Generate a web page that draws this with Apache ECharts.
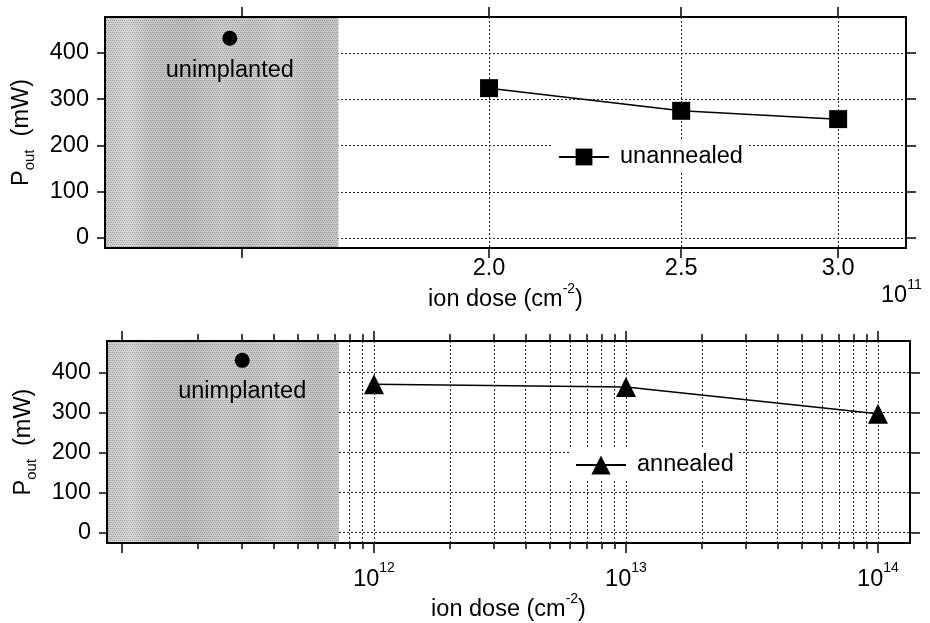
<!DOCTYPE html>
<html><head><meta charset="utf-8">
<script src="https://cdn.jsdelivr.net/npm/echarts@6/dist/echarts.min.js"></script>
<style>html,body{margin:0;padding:0;background:#fff}#c{width:930px;height:623px}</style>
</head><body><div id="c"></div>
<script>
// ---------- data ----------
const topDose = [2.0e11, 2.5e11, 3.0e11];
const topPout = [324, 275, 257];
const bottomDose = [1e12, 1e13, 1e14];
const bottomPout = [371, 364, 297];
const unimplTopDose = [1.48e11];
const unimplTopPout = [432];
const unimplBottomDose = [3e11];
const unimplBottomPout = [431];
// ---------- ticks ----------
const topXTicks = [1.5e11, 2.0e11, 2.5e11, 3.0e11];
const topXLabels = [2.0e11, 2.5e11, 3.0e11];
const bottomMajorTicks = [1e11, 1e12, 1e13, 1e14];
const bottomXLabels = [1e12, 1e13, 1e14];
const bottomMinorTicks = [2e11, 3e11, 4e11, 5e11, 6e11, 7e11, 8e11, 9e11,
  2e12, 3e12, 4e12, 5e12, 6e12, 7e12, 8e12, 9e12,
  2e13, 3e13, 4e13, 5e13, 6e13, 7e13, 8e13, 9e13];
const yTicks = [0, 100, 200, 300, 400];
// ---------- axis ranges ----------
const topXRange = [1.2803e11, 3.246e11];
const topYRange = [-21.6, 477.8];
const topShadeEnd = 1.679e11;
const bottomXRange = [8.72e10, 1.34e14];
const bottomYRange = [-27, 479.5];
const bottomShadeEnd = 7.26e11;

const L = Math.log10;
const FONT = "'Liberation Sans', Arial, Helvetica, sans-serif";
const TXT = '#000';
const FS = 23.5;
const richSup = {
  b: {fontSize: FS, lineHeight: 36, color: TXT, fontFamily: FONT},
  s: {fontSize: 14, lineHeight: 16, verticalAlign: 'top', color: TXT, fontFamily: FONT}
};
const richSub = {
  b: {fontSize: FS, lineHeight: 30, color: TXT, fontFamily: FONT},
  u: {fontSize: 15, lineHeight: 16, verticalAlign: 'bottom', color: TXT, fontFamily: FONT}
};
const gridLine = {show: true, lineStyle: {color: '#222', width: 1, type: [2, 2]}};
const tickStyle = {color: '#000', width: 1.5};

function xAx(grid, pos, range, ticks, len, split, label, extra) {
  return Object.assign({
    type: 'value', gridIndex: grid, position: pos,
    min: L(range[0]), max: L(range[1]),
    axisLine: {show: false, onZero: false},
    axisTick: {show: true, inside: false, length: len, customValues: ticks.map(L), lineStyle: tickStyle},
    axisLabel: label || {show: false},
    splitLine: split ? gridLine : {show: false}
  }, extra || {});
}
function yAx(grid, pos, range, main) {
  const a = {
    type: 'value', gridIndex: grid, position: pos, min: range[0], max: range[1],
    axisLine: {show: false, onZero: false},
    axisTick: {show: true, inside: false, length: main ? 8 : 10, customValues: yTicks, lineStyle: tickStyle},
    axisLabel: main ? {show: true, customValues: yTicks, fontSize: FS, color: TXT, margin: 16, fontFamily: FONT} : {show: false},
    splitLine: main ? gridLine : {show: false}
  };
  if (main) {
    a.name = '{b|P}{u|out}{b|  (mW)}';
    a.nameLocation = 'middle';
    a.nameGap = 68;
    a.nameTextStyle = {rich: richSub};
  }
  return a;
}
const xName = '{b|ion dose (cm}{s|-2}{b|)}';
const shadeColor = {type: 'linear', x: 0, y: 0, x2: 1, y2: 0, colorStops: [
  {offset: 0, color: '#c8c8c8'}, {offset: 0.1, color: '#d6d6d6'}, {offset: 0.2, color: '#c2c2c2'},
  {offset: 0.35, color: '#bcbcbc'}, {offset: 0.5, color: '#cbcbcb'}, {offset: 0.62, color: '#c3c3c3'},
  {offset: 0.75, color: '#d0d0d0'}, {offset: 0.9, color: '#bebebe'}, {offset: 1, color: '#c6c6c6'}]};
// dithered texture (fixed pattern, not data)
const pat = document.createElement('canvas');
pat.width = 4; pat.height = 4;
(function () {
  const g = pat.getContext('2d');
  g.fillStyle = 'rgba(0,0,0,0.22)';
  [[0,0],[2,0],[1,2],[3,2]].forEach(p => g.fillRect(p[0], p[1], 1, 1));
  g.fillStyle = 'rgba(255,255,255,0.35)';
  [[1,1],[3,3]].forEach(p => g.fillRect(p[0], p[1], 1, 1));
})();
const shadeTexture = {image: pat, repeat: 'repeat'};

function shadeArea(x0, x1) {
  return {silent: true, data: [
    [{xAxis: x0, itemStyle: {color: shadeColor}}, {xAxis: x1}],
    [{xAxis: x0, itemStyle: {color: shadeTexture}}, {xAxis: x1}]
  ]};
}

const option = {
  animation: false,
  textStyle: {fontFamily: FONT},
  grid: [
    {left: 105, top: 17, width: 801, height: 231, show: true, borderColor: '#000', borderWidth: 2, backgroundColor: 'transparent', z: 10},
    {left: 107, top: 341, width: 803, height: 206, show: true, borderColor: '#000', borderWidth: 2, backgroundColor: 'transparent', z: 10}
  ],
  xAxis: [
    xAx(0, 'bottom', topXRange, topXTicks, 10, true,
      {show: true, customValues: topXLabels.map(L), fontSize: FS, color: TXT, margin: 9, fontFamily: FONT,
       formatter: v => (Math.pow(10, v) / 1e11).toFixed(1)},
      {name: xName, nameLocation: 'middle', nameGap: 31, nameTextStyle: {rich: richSup}}),
    xAx(0, 'top', topXRange, topXTicks, 10, false),
    xAx(1, 'bottom', bottomXRange, bottomMajorTicks, 10, true,
      {show: true, customValues: bottomXLabels.map(L), margin: 18,
       formatter: v => '{b|10}{s|' + Math.round(v) + '}', rich: richSup},
      {name: xName, nameLocation: 'middle', nameGap: 42, nameTextStyle: {rich: richSup}}),
    xAx(1, 'bottom', bottomXRange, bottomMinorTicks, 6, true),
    xAx(1, 'top', bottomXRange, bottomMajorTicks, 10, false),
    xAx(1, 'top', bottomXRange, bottomMinorTicks, 7, false)
  ],
  yAxis: [
    yAx(0, 'left', topYRange, true),
    yAx(0, 'right', topYRange, false),
    yAx(1, 'left', bottomYRange, true),
    yAx(1, 'right', bottomYRange, false)
  ],
  legend: [
    {data: ['unannealed'], left: 553, top: 141, itemWidth: 50, itemHeight: 21, backgroundColor: '#fff',
     padding: [4, 5], selectedMode: false, textStyle: {fontSize: FS, color: TXT, padding: [0, 0, 0, 6]}},
    {data: ['annealed'], left: 570, top: 449, itemWidth: 50, itemHeight: 24, backgroundColor: '#fff',
     padding: [4, 5], selectedMode: false, textStyle: {fontSize: FS, color: TXT, padding: [0, 0, 0, 6]}}
  ],
  graphic: [
    {type: 'text', left: 881, top: 278, style: {text: '{b|10}{s|11}', rich: richSup}}
  ],
  series: [
    {type: 'line', name: 'shadeTop', xAxisIndex: 0, yAxisIndex: 0, data: [], z: 1, silent: true,
     markArea: shadeArea(L(topXRange[0]), L(topShadeEnd))},
    {type: 'line', name: 'shadeBottom', xAxisIndex: 2, yAxisIndex: 2, data: [], z: 1, silent: true,
     markArea: shadeArea(L(bottomXRange[0]), L(bottomShadeEnd))},
    {type: 'line', name: 'unannealed', xAxisIndex: 0, yAxisIndex: 0,
     data: topDose.map((d, i) => [L(d), topPout[i]]),
     symbol: 'rect', symbolSize: 18, showAllSymbol: true,
     lineStyle: {color: '#000', width: 1.5}, itemStyle: {color: '#000', opacity: 1}, z: 5},
    {type: 'line', name: 'annealed', xAxisIndex: 2, yAxisIndex: 2,
     data: bottomDose.map((d, i) => [L(d), bottomPout[i]]),
     symbol: 'triangle', symbolSize: 20, showAllSymbol: true,
     lineStyle: {color: '#000', width: 1.5}, itemStyle: {color: '#000', opacity: 1}, z: 5},
    {type: 'scatter', name: 'unimplanted', xAxisIndex: 0, yAxisIndex: 0,
     data: unimplTopDose.map((d, i) => [L(d), unimplTopPout[i]]),
     symbol: 'circle', symbolSize: 15, itemStyle: {color: '#000', opacity: 1}, z: 5,
     label: {show: true, position: 'bottom', distance: 13, formatter: 'unimplanted', fontSize: FS, color: TXT, fontFamily: FONT}},
    {type: 'scatter', name: 'unimplanted ', xAxisIndex: 2, yAxisIndex: 2,
     data: unimplBottomDose.map((d, i) => [L(d), unimplBottomPout[i]]),
     symbol: 'circle', symbolSize: 15, itemStyle: {color: '#000', opacity: 1}, z: 5,
     label: {show: true, position: 'bottom', distance: 12, formatter: 'unimplanted', fontSize: FS, color: TXT, fontFamily: FONT}}
  ]
};
const chart = echarts.init(document.getElementById('c'), null, {renderer: 'canvas'});
chart.setOption(option);
</script>
</body></html>
